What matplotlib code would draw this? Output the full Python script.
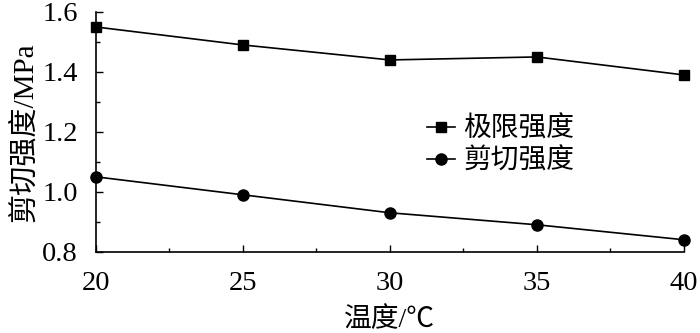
import matplotlib
matplotlib.use("Agg")
import matplotlib.pyplot as plt
from matplotlib.ticker import MultipleLocator

plt.rcParams['font.family'] = ['Liberation Serif', 'Noto Sans CJK SC']
plt.rcParams['mathtext.fontset'] = 'stix'

temps = [20, 25, 30, 35, 40]
ultimate = [1.55, 1.49, 1.44, 1.45, 1.39]
shear = [1.05, 0.99, 0.93, 0.89, 0.84]
labels = ['极限强度', '剪切强度']
xlabel = '温度/℃'
ylabel = '剪切强度/MPa'

fig = plt.figure(figsize=(7, 3.33), dpi=100)
ax = fig.add_axes([0.137, 0.244, 0.840, 0.72])
ax.plot(temps, ultimate, color='black', lw=1.2, marker='s', ms=7.5, label=labels[0], clip_on=False, zorder=3)
ax.plot(temps, shear, color='black', lw=1.2, marker='o', ms=8, label=labels[1], clip_on=False, zorder=3)

ax.set_xlim(20, 40)
ax.set_ylim(0.8, 1.6)
ax.xaxis.set_major_locator(MultipleLocator(5))
ax.xaxis.set_minor_locator(MultipleLocator(2.5))
ax.yaxis.set_major_locator(MultipleLocator(0.2))
ax.yaxis.set_minor_locator(MultipleLocator(0.1))
ax.yaxis.set_major_formatter(matplotlib.ticker.FormatStrFormatter('%.1f'))
for s in ['top', 'right']:
    ax.spines[s].set_visible(False)
for s in ['left', 'bottom']:
    ax.spines[s].set_linewidth(1.2)
ax.tick_params(which='major', direction='in', length=5, width=1.0, labelsize=20.5)
ax.tick_params(which='minor', direction='in', length=3, width=1.0)
ax.tick_params(axis='x', pad=14)
ax.tick_params(axis='y', pad=13)

ax.set_xlabel(xlabel, fontsize=20, labelpad=8)
ax.set_ylabel(ylabel, fontsize=21, labelpad=3)

leg = ax.legend(loc='upper left', bbox_to_anchor=(0.545, 0.61), frameon=False, fontsize=20,
                handlelength=1.0, handletextpad=0.3, labelspacing=0.2, borderaxespad=0)
fig.savefig('out.png', dpi=100)
